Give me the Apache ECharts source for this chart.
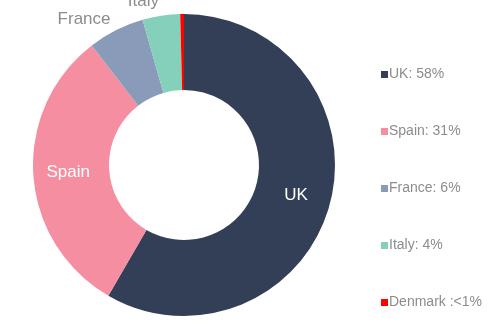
<!DOCTYPE html>
<html><head><meta charset="utf-8">
<script src="https://cdn.jsdelivr.net/npm/echarts@6/dist/echarts.min.js"></script>
<style>html,body{margin:0;padding:0;background:#fff}#c{width:500px;height:330px}</style>
</head><body><div id="c"></div>
<script>
const categories = ['UK', 'Spain', 'France', 'Italy', 'Denmark'];
const values = [58, 31, 6, 4, 0.4];
const legendLabels = ['UK: 58%', 'Spain: 31%', 'France: 6%', 'Italy: 4%', 'Denmark :<1%'];
const colors = ['#333f57', '#f48ea0', '#8a9bb9', '#85d0bb', '#ff0000'];
const outsideLabel = [false, false, true, true, null];

const FONT = 'Liberation Sans, Arial, sans-serif';
const chart = echarts.init(document.getElementById('c'), null, {renderer: 'canvas'});
const data = categories.map((name, i) => {
  const item = {name, value: values[i], itemStyle: {color: colors[i]}};
  if (outsideLabel[i] === true) {
    item.label = {show: true, position: 'outside', color: '#8c8c8c', fontSize: 17, distanceToLabelLine: 0};
    item.labelLine = {show: false, length: name === 'Italy' ? 15 : 12, length2: 0};
  } else if (outsideLabel[i] === null) {
    item.label = {show: false};
  }
  return item;
});
chart.setOption({
  animation: false,
  legend: {
    orient: 'vertical',
    left: 376,
    top: 61,
    itemWidth: 7,
    itemHeight: 7,
    itemGap: 40,
    icon: 'rect',
    textStyle: {color: '#8c8c8c', fontSize: 14, fontFamily: FONT, padding: [2, 0, 0, -4], lineHeight: 15},
    formatter: name => legendLabels[categories.indexOf(name)],
    data: categories
  },
  series: [{
    type: 'pie',
    center: [184, 165],
    radius: [75, 151],
    startAngle: 90,
    clockwise: true,
    avoidLabelOverlap: false,
    label: {show: true, position: 'inside', color: '#ffffff', fontSize: 17, fontFamily: FONT},
    labelLine: {show: false, length: 12, length2: 0},
    itemStyle: {borderWidth: 0},
    emphasis: {disabled: true},
    data
  }]
});
</script></body></html>
